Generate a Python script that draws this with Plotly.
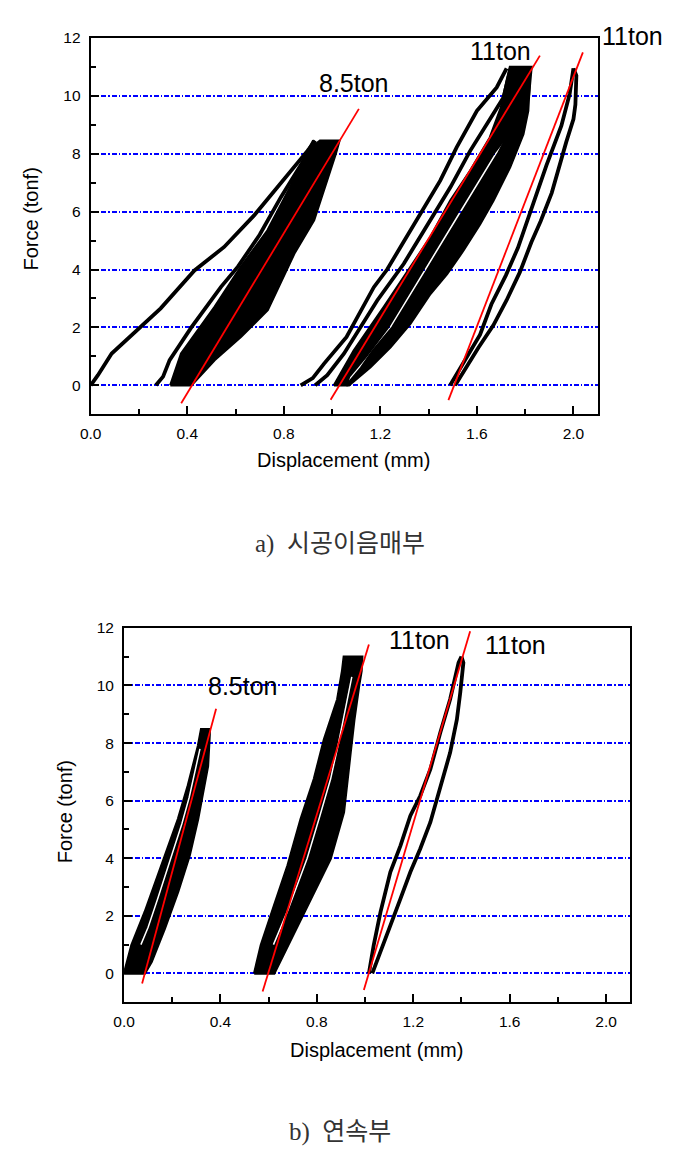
import plotly.graph_objects as go

# ---------------- data ----------------
# Panel a) 시공이음매부
a85_first_x = [0.00, 0.03, 0.087, 0.20, 0.29, 0.43, 0.553, 0.677, 0.788, 0.898, 0.93]
a85_first_y = [0.00, 0.35, 1.10, 1.97, 2.66, 3.97, 4.78, 5.87, 6.97, 8.10, 8.45]
a85_second_x = [0.27, 0.30, 0.327, 0.417, 0.54, 0.61, 0.70, 0.788, 0.87, 0.925]
a85_second_y = [0.00, 0.30, 0.87, 2.00, 3.40, 4.10, 5.20, 6.50, 7.60, 8.45]
a85_band_x = [0.33, 0.375, 0.513, 0.623, 0.733, 0.843, 0.912, 0.95, 1.03, 1.015, 0.925, 0.843, 0.733, 0.623, 0.513, 0.417, 0.33]
a85_band_y = [0.00, 1.10, 2.70, 4.10, 5.35, 7.08, 8.20, 8.45, 8.45, 8.00, 5.70, 4.55, 2.60, 1.68, 0.87, 0.00, 0.00]

a11_first_x = [0.87, 0.92, 0.967, 1.06, 1.173, 1.228, 1.283, 1.38, 1.448, 1.516, 1.60, 1.682, 1.723]
a11_first_y = [0.00, 0.25, 0.75, 1.67, 3.39, 4.00, 4.77, 6.15, 7.07, 8.22, 9.48, 10.29, 10.95]
a11_second_x = [0.93, 0.98, 1.049, 1.187, 1.297, 1.407, 1.49, 1.572, 1.64, 1.71, 1.74]
a11_second_y = [0.00, 0.35, 1.09, 2.93, 4.20, 5.69, 6.84, 8.10, 9.02, 9.94, 10.95]
a11_main_x = [1.008, 1.09, 1.214, 1.324, 1.407, 1.49, 1.572, 1.654, 1.70, 1.723, 1.737,
              1.826, 1.815, 1.76, 1.668, 1.522, 1.376, 1.231, 1.14, 1.07, 1.06, 1.008]
a11_main_y = [0.00, 1.20, 2.70, 4.08, 5.11, 6.38, 7.41, 8.56, 9.60, 10.50, 11.00,
              11.00, 10.00, 9.00, 8.00, 6.00, 4.00, 2.00, 1.00, 0.30, 0.00, 0.00]
a11_lower_x = [1.06, 1.12, 1.17, 1.25, 1.396, 1.542, 1.688, 1.75, 1.80,
               1.819, 1.812, 1.792, 1.737, 1.668, 1.613, 1.544, 1.476, 1.407, 1.324, 1.242, 1.159, 1.07, 1.06]
a11_lower_y = [0.00, 0.60, 1.20, 2.00, 4.00, 6.00, 8.00, 9.00, 10.00,
               10.52, 9.48, 8.68, 7.53, 6.38, 5.57, 4.66, 3.85, 3.16, 2.13, 1.32, 0.63, 0.00, 0.00]

a11r_load_x = [1.489, 1.558, 1.613, 1.66, 1.72, 1.77, 1.826, 1.888, 1.95, 1.984, 2.00]
a11r_load_y = [0.00, 0.95, 1.75, 2.80, 3.80, 4.75, 6.15, 7.60, 8.97, 10.06, 10.95]
a11r_unload_x = [2.00, 2.012, 2.008, 2.00, 1.97, 1.943, 1.91, 1.864, 1.826, 1.778, 1.723, 1.668, 1.606, 1.544, 1.51]
a11r_unload_y = [10.95, 10.70, 9.70, 9.20, 8.40, 7.60, 6.65, 5.67, 4.95, 3.91, 2.94, 2.07, 1.30, 0.46, 0.00]

a_red1_x, a_red1_y = [0.375, 1.111], [-0.62, 9.55]
a_red2_x, a_red2_y = [0.994, 1.861], [-0.50, 11.39]
a_red3_x, a_red3_y = [1.482, 2.039], [-0.51, 11.50]

# Panel b) 연속부
b85_band_x = [0.00, 0.031, 0.086, 0.155, 0.224, 0.265, 0.307, 0.32, 0.355, 0.355, 0.348, 0.307, 0.272, 0.224, 0.169, 0.114, 0.086, 0.00]
b85_band_y = [0.00, 0.98, 2.13, 3.75, 5.36, 6.52, 7.90, 8.48, 8.48, 8.30, 7.20, 5.36, 4.10, 2.83, 1.56, 0.40, 0.00, 0.00]
b85_gap_x = [0.07, 0.10, 0.14, 0.17, 0.205, 0.24, 0.27, 0.295, 0.315]
b85_gap_y = [1.00, 1.60, 2.60, 3.40, 4.30, 5.20, 6.10, 7.00, 7.80]

b11_band_x = [0.54, 0.568, 0.623, 0.679, 0.733, 0.788, 0.83, 0.885, 0.905, 0.912,
              0.988, 0.985, 0.975, 0.955, 0.94, 0.925, 0.912, 0.857, 0.775, 0.692, 0.623, 0.54]
b11_band_y = [0.00, 0.98, 2.36, 3.75, 5.36, 6.75, 8.13, 9.52, 10.50, 11.00,
              11.00, 10.50, 10.00, 8.80, 7.70, 6.50, 5.60, 3.98, 2.60, 1.21, 0.00, 0.00]
b11_gap_x = [0.62, 0.68, 0.72, 0.76, 0.81, 0.857, 0.89, 0.92, 0.945]
b11_gap_y = [1.00, 2.20, 3.10, 4.00, 5.40, 6.75, 8.00, 9.30, 10.30]

b11r_load_x = [1.016, 1.036, 1.064, 1.105, 1.147, 1.188, 1.229, 1.271, 1.312, 1.353, 1.388, 1.40]
b11r_load_y = [0.00, 0.98, 2.13, 3.52, 4.44, 5.48, 6.17, 7.09, 8.36, 9.52, 10.79, 11.00]
b11r_unload_x = [1.40, 1.408, 1.395, 1.381, 1.353, 1.326, 1.298, 1.271, 1.229, 1.188, 1.147, 1.105, 1.064, 1.036, 1.03]
b11r_unload_y = [11.00, 10.79, 9.75, 8.82, 7.67, 6.86, 6.06, 5.25, 4.33, 3.52, 2.60, 1.67, 0.75, 0.06, 0.00]

b_red1_x, b_red1_y = [0.075, 0.382], [-0.35, 9.19]
b_red2_x, b_red2_y = [0.575, 1.016], [-0.63, 11.42]
b_red3_x, b_red3_y = [0.995, 1.436], [-0.58, 11.88]

x_ticks = [0.0, 0.4, 0.8, 1.2, 1.6, 2.0]
y_ticks = [0, 2, 4, 6, 8, 10, 12]

labels_a = [("8.5ton", 1.09, 10.45), ("11ton", 1.696, 11.54)]
label_a_outside = ("11ton", 633, 35)   # sits outside the frame (pixel position)
labels_b = [("8.5ton", 0.494, 9.97), ("11ton", 1.225, 11.59), ("11ton", 1.626, 11.42)]

caption_a = "a)  시공이음매부"
caption_b = "b)  연속부"
x_title = "Displacement (mm)"
y_title = "Force (tonf)"

# ---------------- figure ----------------
W, H = 687, 1156

def PX(px):  # target pixel -> paper fraction (small calibration for the capture)
    return (px - 9) / 0.988 / W

def PY(py):
    return 1 - (py - 8) / 0.994 / H

fig = go.Figure()

def poly(x, y, xa, ya):
    fig.add_trace(go.Scatter(x=x, y=y, xaxis=xa, yaxis=ya, mode="lines", fill="toself",
                             fillcolor="black", line=dict(color="black", width=2.5),
                             hoverinfo="skip", showlegend=False))

def line(x, y, xa, ya, color="black", width=3.8):
    fig.add_trace(go.Scatter(x=x, y=y, xaxis=xa, yaxis=ya, mode="lines",
                             line=dict(color=color, width=width),
                             hoverinfo="skip", showlegend=False))

# panel a
poly(a85_band_x, a85_band_y, "x", "y")
line(a85_first_x, a85_first_y, "x", "y")
line(a85_second_x, a85_second_y, "x", "y")
poly(a11_main_x, a11_main_y, "x", "y")
poly(a11_lower_x, a11_lower_y, "x", "y")
line(a11_first_x, a11_first_y, "x", "y")
line(a11_second_x, a11_second_y, "x", "y")
line(a11r_load_x, a11r_load_y, "x", "y")
line(a11r_unload_x, a11r_unload_y, "x", "y")
for rx, ry in [(a_red1_x, a_red1_y), (a_red2_x, a_red2_y), (a_red3_x, a_red3_y)]:
    line(rx, ry, "x", "y", color="#ff0000", width=1.8)

# panel b
poly(b85_band_x, b85_band_y, "x2", "y2")
line(b85_gap_x, b85_gap_y, "x2", "y2", color="white", width=1.5)
poly(b11_band_x, b11_band_y, "x2", "y2")
line(b11_gap_x, b11_gap_y, "x2", "y2", color="white", width=1.5)
line(b11r_load_x, b11r_load_y, "x2", "y2")
line(b11r_unload_x, b11r_unload_y, "x2", "y2")
for rx, ry in [(b_red1_x, b_red1_y), (b_red2_x, b_red2_y), (b_red3_x, b_red3_y)]:
    line(rx, ry, "x2", "y2", color="#ff0000", width=1.8)

tickfont = dict(family="Liberation Sans, Arial, sans-serif", size=15.5, color="black")

def xaxis(domain, anchor):
    return dict(domain=domain, anchor=anchor, range=[0, 2.1], tickvals=x_ticks,
                ticktext=[f"{v:.1f}" for v in x_ticks], ticks="inside", ticklen=8, tickwidth=2,
                tickcolor="black", showline=True, linewidth=2, linecolor="black", mirror=True,
                showgrid=False, zeroline=False, tickfont=tickfont, ticklabelstandoff=4,
                minor=dict(tickvals=[0.2, 0.6, 1.0, 1.4, 1.8], ticks="inside", ticklen=5,
                           tickwidth=2, tickcolor="black", showgrid=False))

def yaxis(domain, anchor):
    return dict(domain=domain, anchor=anchor, range=[-1, 12], tickvals=y_ticks,
                ticks="inside", ticklen=8, tickwidth=2, tickcolor="black",
                showline=True, linewidth=2, linecolor="black", mirror=True,
                showgrid=True, gridcolor="#0000ff", gridwidth=1.5, griddash="5px,2px,1.5px,2px",
                zeroline=False, tickfont=tickfont, ticklabelstandoff=5,
                minor=dict(tickvals=[-1, 1, 3, 5, 7, 9, 11], ticks="inside", ticklen=5,
                           tickwidth=2, tickcolor="black", showgrid=False))

fig.update_layout(
    width=W, height=H, autosize=False,
    margin=dict(l=0, r=0, t=0, b=0),
    paper_bgcolor="white", plot_bgcolor="white",
    xaxis=xaxis([PX(89), PX(598)], "y"),
    yaxis=yaxis([PY(414), PY(37)], "x"),
    xaxis2=xaxis([PX(122.5), PX(630.7)], "y2"),
    yaxis2=yaxis([PY(1003), PY(628)], "x2"),
)

annfont = dict(family="Liberation Sans, Arial, sans-serif", size=25, color="black")
for txt, xv, yv in labels_a:
    fig.add_annotation(x=xv, y=yv, xref="x", yref="y", text=txt, showarrow=False, font=annfont,
                       xanchor="center", yanchor="middle")
fig.add_annotation(x=PX(label_a_outside[1]), y=PY(label_a_outside[2]), xref="paper", yref="paper",
                   text=label_a_outside[0], showarrow=False, font=annfont,
                   xanchor="center", yanchor="middle")
for txt, xv, yv in labels_b:
    fig.add_annotation(x=xv, y=yv, xref="x2", yref="y2", text=txt, showarrow=False, font=annfont,
                       xanchor="center", yanchor="middle")

titlefont = dict(family="Liberation Sans, Arial, sans-serif", size=20, color="black")
for txt, px, py, ang in [(x_title, 343, 460, 0), (y_title, 29, 218, -90),
                         (x_title, 376, 1051, 0), (y_title, 63, 812, -90)]:
    fig.add_annotation(x=PX(px), y=PY(py), xref="paper", yref="paper", text=txt,
                       showarrow=False, font=titlefont, textangle=ang,
                       xanchor="center", yanchor="middle")

capfont = dict(family="Liberation Serif, Noto Sans CJK KR, serif", size=25, color="#333333")
fig.add_annotation(x=PX(339), y=PY(544), xref="paper", yref="paper", text=caption_a,
                   showarrow=False, font=capfont, xanchor="center", yanchor="middle")
fig.add_annotation(x=PX(339), y=PY(1133), xref="paper", yref="paper", text=caption_b,
                   showarrow=False, font=capfont, xanchor="center", yanchor="middle")

fig.write_html("out.html", config={"displayModeBar": False},
               post_script="document.body.style.margin='0';document.body.style.overflow='hidden';")
